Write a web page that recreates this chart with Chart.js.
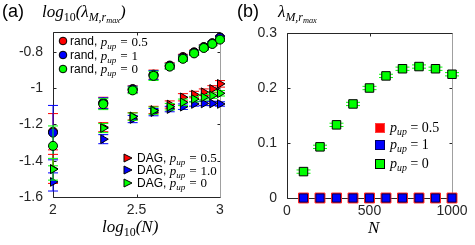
<!DOCTYPE html>
<html><head><meta charset="utf-8">
<script src="https://cdn.jsdelivr.net/npm/chart.js@4.4.0/dist/chart.umd.min.js"></script>
<style>
html,body{margin:0;padding:0;background:#fff;}
#wrap{position:relative;width:475px;height:245px;overflow:hidden;}
canvas{position:absolute;top:0;}
.t{position:absolute;white-space:nowrap;color:#000;line-height:1;}
.m{font-family:'Liberation Serif','Times New Roman',serif;font-style:italic;}
.n{font-style:normal;}
sub{font-size:70%;vertical-align:-0.3em;line-height:0;}
.sans{font-family:'Liberation Sans',Arial,sans-serif;}
.row{position:absolute;white-space:nowrap;line-height:1;display:flex;align-items:center;height:14px;}
.row svg{position:absolute;}
</style></head><body><div id="wrap">
<canvas id="ca" width="237" height="245" style="left:0"></canvas>
<canvas id="cb" width="238" height="245" style="left:237px"></canvas>

<div class="t sans" style="left:2px;top:2px;font-size:18px;">(a)</div>
<div class="t m" style="left:42px;top:3px;font-size:17px;">log<sub class="n">10</sub>(λ<sub>M,r<sub>max</sub></sub>)</div>
<div class="t sans" style="left:237px;top:2px;font-size:18px;">(b)</div>
<div class="t m" style="left:278px;top:3px;font-size:17px;">λ<sub>M,r<sub>max</sub></sub></div>
<div class="t m" style="left:102px;top:218px;font-size:17px;">log<sub class="n">10</sub>(N)</div>
<div class="t m" style="left:368px;top:219px;font-size:17px;">N</div>

<div id="legA"></div>
<div id="legD"></div>
<div id="legB"></div>
</div>
<script>
// ---------- DATA ----------
const logN = [2, 2.301, 2.477, 2.602, 2.699, 2.778, 2.845, 2.903, 2.954, 3];
const aXTicks = [2, 2.5, 3];
const aYTicks = [-1.6, -1.4, -1.2, -1, -0.8];

const randRed   = [-1.24, -1.080, -1.005, -0.925, -0.875, -0.828, -0.802, -0.773, -0.752, -0.720];
const randBlue  = [-1.245, -1.083, -1.007, -0.928, -0.878, -0.833, -0.805, -0.775, -0.753, -0.722];
const randGreen = [-1.318, -1.088, -1.012, -0.932, -0.881, -0.838, -0.808, -0.778, -0.756, -0.732];
const randRedErr   = [0.10, 0.03, 0.018, 0.025, 0.015, 0.015, 0.012, 0.012, 0.010, 0.010];
const randBlueErr  = [0.15, 0.03, 0.018, 0.025, 0.015, 0.015, 0.012, 0.012, 0.010, 0.010];
const randGreenErr = [0.11, 0.03, 0.018, 0.025, 0.015, 0.015, 0.012, 0.012, 0.010, 0.010];

const dagRed   = [-1.445, -1.215, -1.155, -1.120, -1.090, -1.050, -1.035, -1.022, -1.004, -0.976];
const dagBlue  = [-1.517, -1.281, -1.170, -1.132, -1.115, -1.102, -1.087, -1.084, -1.084, -1.087];
const dagGreen = [-1.447, -1.220, -1.157, -1.124, -1.102, -1.078, -1.060, -1.050, -1.041, -1.028];
const dagRedErr   = [0.08, 0.025, 0.02, 0.02, 0.02, 0.02, 0.018, 0.018, 0.018, 0.018];
const dagBlueErr  = [0.05, 0.025, 0.02, 0.02, 0.015, 0.015, 0.012, 0.012, 0.012, 0.012];
const dagGreenErr = [0.06, 0.025, 0.02, 0.02, 0.018, 0.018, 0.015, 0.015, 0.015, 0.015];

const N = [100, 200, 300, 400, 500, 600, 700, 800, 900, 1000];
const bXTicks = [0, 500, 1000];
const bYTicks = [0, 0.1, 0.2, 0.3];
const bRed   = [0, 0, 0, 0, 0, 0, 0, 0, 0, 0];
const bBlue  = [0, 0, 0, 0, 0, 0, 0, 0, 0, 0];
const bGreen = [0.048, 0.093, 0.133, 0.171, 0.200, 0.222, 0.235, 0.239, 0.235, 0.225];
const bGreenErr = [0.003, 0.003, 0.003, 0.003, 0.003, 0.003, 0.003, 0.003, 0.003, 0.003];

// ---------- PLUGINS ----------
const boxPlugin = {
  id: 'box',
  beforeDatasetsDraw(chart) {
    const {ctx, chartArea: a, scales: {x, y}} = chart;
    const L = Math.round(a.left) + 0.5, R = Math.round(a.right) + 0.5,
          T = Math.round(a.top) + 0.5, B = Math.round(a.bottom) + 0.5;
    ctx.save();
    ctx.lineWidth = 1;
    ctx.strokeStyle = '#262626';
    const tl = 3;
    ctx.beginPath();
    x.ticks.forEach(t => {
      const p = Math.round(x.getPixelForValue(t.value)) + 0.5;
      ctx.moveTo(p, B); ctx.lineTo(p, B - tl);
      ctx.moveTo(p, T); ctx.lineTo(p, T + tl);
    });
    y.ticks.forEach(t => {
      const p = Math.round(y.getPixelForValue(t.value)) + 0.5;
      ctx.moveTo(L, p); ctx.lineTo(L + tl, p);
      ctx.moveTo(R, p); ctx.lineTo(R - tl, p);
    });
    ctx.stroke();
    ctx.beginPath();
    ctx.moveTo(R, B); ctx.lineTo(L, B); ctx.lineTo(L, T); ctx.lineTo(R, T);
    ctx.stroke();
    ctx.strokeStyle = '#a0a0a0';
    ctx.beginPath(); ctx.moveTo(R, T); ctx.lineTo(R, B); ctx.stroke();
    ctx.restore();
  }
};

const errPlugin = {
  id: 'err',
  beforeDatasetDraw(chart, args) {
    const ds = chart.data.datasets[args.index];
    if (!ds.errors) return;
    const {ctx, scales: {x, y}} = chart;
    ctx.save();
    ctx.strokeStyle = ds.backgroundColor;
    ctx.lineWidth = 1;
    ds.data.forEach((p, i) => {
      const e = ds.errors[i];
      if (!e) return;
      const px = x.getPixelForValue(p.x);
      const y1 = y.getPixelForValue(p.y + e), y2 = y.getPixelForValue(p.y - e);
      const c = ds.capHalf;
      ctx.beginPath();
      ctx.moveTo(px, y1); ctx.lineTo(px, y2);
      ctx.moveTo(px - c, y1); ctx.lineTo(px + c, y1);
      ctx.moveTo(px - c, y2); ctx.lineTo(px + c, y2);
      ctx.stroke();
    });
    ctx.restore();
  }
};

function mk(xs, ys, errs, color, style, radius, order, cap, rotation, border) {
  return {
    data: xs.map((v, i) => ({x: v, y: ys[i]})),
    backgroundColor: color, borderColor: border || '#000', borderWidth: 1,
    pointStyle: style, pointRadius: radius, pointHoverRadius: radius,
    pointRotation: rotation || 0, order: order, errors: errs, capHalf: cap,
    clip: false, showLine: false
  };
}

const tickFont = {family: "'Liberation Sans', Arial, sans-serif", size: 14};

function axes(xmin, xmax, ymin, ymax, xt, yt, yW, xH) {
  return {
    x: {
      type: 'linear', min: xmin, max: xmax,
      afterBuildTicks: s => { s.ticks = xt.map(v => ({value: v})); },
      afterFit: s => { s.height = xH; },
      ticks: {font: tickFont, color: '#262626', padding: 5, maxRotation: 0, autoSkip: false,
              callback: v => String(v)},
      grid: {display: false, drawTicks: false}, border: {display: false}
    },
    y: {
      type: 'linear', min: ymin, max: ymax,
      afterBuildTicks: s => { s.ticks = yt.map(v => ({value: v})); },
      afterFit: s => { s.width = yW; },
      ticks: {font: tickFont, color: '#262626', padding: 10, autoSkip: false,
              callback: v => String(Math.round(v * 10) / 10)},
      grid: {display: false, drawTicks: false}, border: {display: false}
    }
  };
}

const common = {
  responsive: false, animation: false, devicePixelRatio: 1,
  plugins: {legend: {display: false}, tooltip: {enabled: false}}
};

new Chart(document.getElementById('ca'), {
  type: 'scatter',
  data: {datasets: [
    mk(logN, randRed, randRedErr, '#ff0000', 'circle', 4.5, 6, 5),
    mk(logN, randBlue, randBlueErr, '#0000ff', 'circle', 4.5, 5, 5),
    mk(logN, randGreen, randGreenErr, '#00ff00', 'circle', 4.5, 4, 5),
    mk(logN, dagRed, dagRedErr, '#ff0000', 'triangle', 5, 3, 5, 90),
    mk(logN, dagBlue, dagBlueErr, '#0000ff', 'triangle', 5, 2, 5, 90),
    mk(logN, dagGreen, dagGreenErr, '#00ff00', 'triangle', 5, 1, 5, 90)
  ]},
  options: Object.assign({}, common, {
    layout: {padding: {left: 0, top: 32, right: 17, bottom: 0}},
    scales: axes(2, 3, -1.6, -0.69, aXTicks, aYTicks, 53, 48)
  }),
  plugins: [boxPlugin, errPlugin]
});

new Chart(document.getElementById('cb'), {
  type: 'scatter',
  data: {datasets: [
    mk(N, bRed, null, '#ff0000', 'rect', 7, 3, 0, 0, '#ff2020'),
    mk(N, bBlue, null, '#0000ff', 'rect', 5.7, 2, 0, 0, '#000060'),
    mk(N, bGreen, bGreenErr, '#00ff00', 'rect', 6, 1, 7)
  ]},
  options: Object.assign({}, common, {
    layout: {padding: {left: 0, top: 33, right: 23, bottom: 0}},
    scales: axes(0, 1000, 0, 0.3, bXTicks, bYTicks, 50, 47)
  }),
  plugins: [boxPlugin, errPlugin]
});

// ---------- LEGENDS (HTML text) ----------
function circle(c) { return `<svg width="10" height="10" style="left:-5px;top:2px"><circle cx="5" cy="5" r="3.8" fill="${c}" stroke="#000" stroke-width="1"/></svg>`; }
function tri(c) { return `<svg width="10" height="10" style="left:-5px;top:2px"><polygon points="1,1 9,5 1,9" fill="${c}" stroke="#000" stroke-width="1"/></svg>`; }
function sq(c, b) { return `<svg width="12" height="12" style="left:-6px;top:1px"><rect x="1.5" y="1.5" width="9" height="9" fill="${c}" stroke="${b}" stroke-width="1"/></svg>`; }
const pup = v => `<span class="m" style="font-size:13px;">p<sub>up</sub> = ${'<span class="n">' + v + '</span>'}</span>`;

const legA = [['#ff0000', '0.5', 34], ['#0000ff', '1', 48], ['#00ff00', '0', 61.5]];
document.getElementById('legA').innerHTML = legA.map(([c, v, y]) =>
  `<div class="row" style="left:63px;top:${y}px;"><span style="position:relative;width:7px;display:inline-block;height:14px;">${circle(c)}</span><span class="sans" style="font-size:12px;">rand,&nbsp;</span>${pup(v)}</div>`).join('');

const legD = [['#ff0000', '0.5', 150.5], ['#0000ff', '1.0', 163], ['#00ff00', '0', 175.5]];
document.getElementById('legD').innerHTML = legD.map(([c, v, y]) =>
  `<div class="row" style="left:128px;top:${y}px;"><span style="position:relative;width:9px;display:inline-block;height:14px;">${tri(c)}</span><span class="sans" style="font-size:12px;">DAG,&nbsp;</span>${pup(v)}</div>`).join('');

const legB = [['#ff0000', '#ff4040', '0.5', 120.5], ['#0000ff', '#000060', '1', 138], ['#00ff00', '#000', '0', 156.5]];
document.getElementById('legB').innerHTML = legB.map(([c, b, v, y]) =>
  `<div class="row" style="left:380px;top:${y}px;"><span style="position:relative;width:10px;display:inline-block;height:14px;">${sq(c, b)}</span><span class="m" style="font-size:14px;">p<sub>up</sub>&thinsp;=&thinsp;<span class="n">${v}</span></span></div>`).join('');
</script>
</body></html>
